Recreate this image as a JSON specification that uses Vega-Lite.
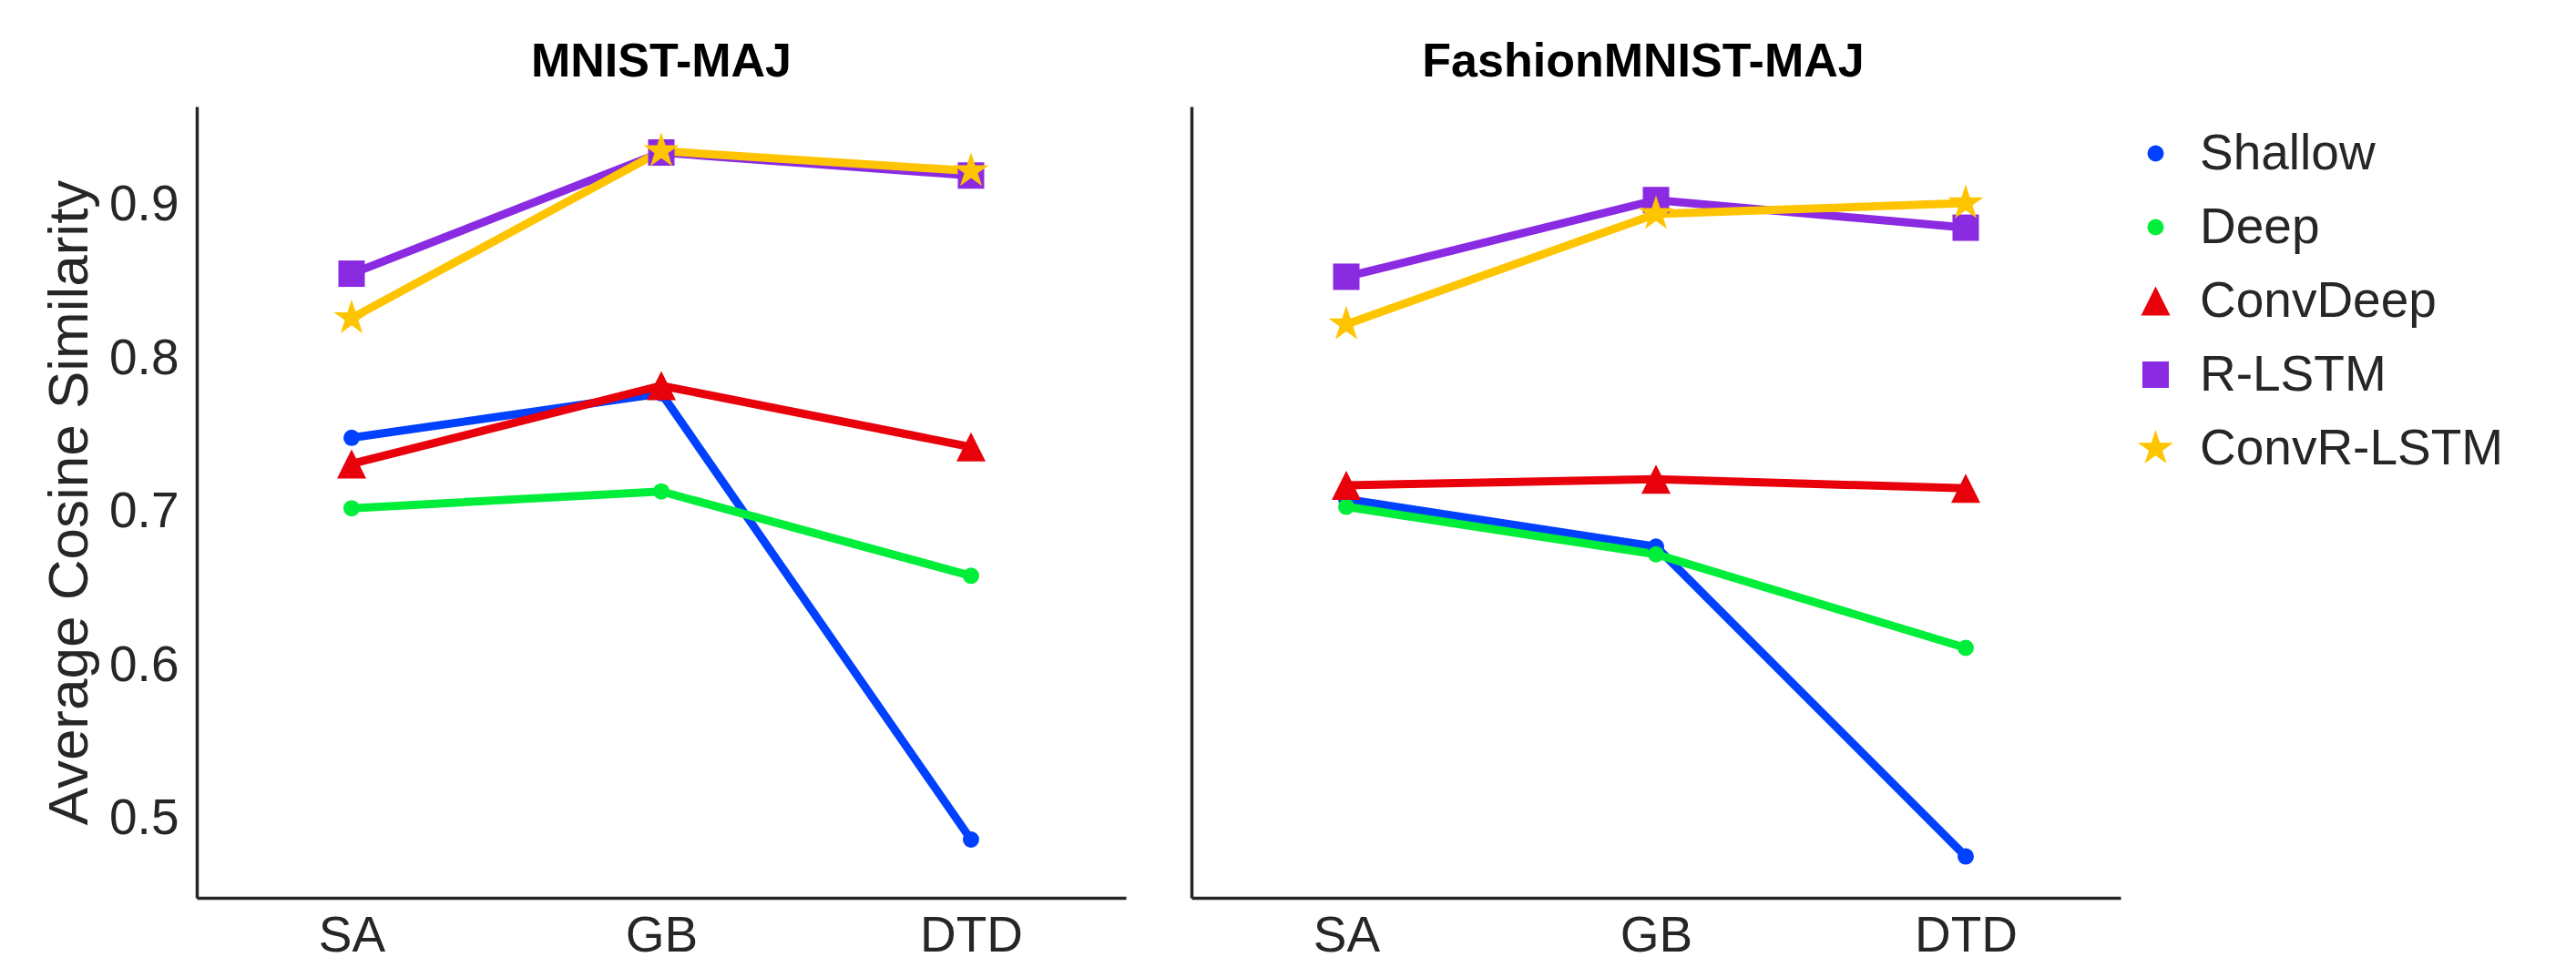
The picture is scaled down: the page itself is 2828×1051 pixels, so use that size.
{
  "$schema": "https://vega.github.io/schema/vega-lite/v6.json",
  "background": "white",
  "autosize": {"type": "pad"},
  "padding": {"left": 45, "top": 42, "right": 0, "bottom": 0},
  "config": {
    "font": "Liberation Sans",
    "view": {"stroke": null},
    "concat": {"spacing": 72},
    "axis": {
      "grid": false,
      "ticks": false,
      "tickSize": 0,
      "domainColor": "#262626",
      "domainWidth": 3.5,
      "labelFont": "Liberation Sans",
      "labelFontSize": 55,
      "labelColor": "#262626",
      "labelPadding": 20,
      "titleFont": "Liberation Sans",
      "titleFontSize": 62,
      "titleFontWeight": "normal",
      "titleColor": "#262626"
    },
    "title": {
      "font": "Liberation Sans",
      "fontSize": 52,
      "fontWeight": "bold",
      "color": "#000000",
      "frame": "group",
      "anchor": "middle",
      "baseline": "alphabetic",
      "offset": 22
    },
    "legend": {
      "orient": "right",
      "offset": -13,
      "padding": 24,
      "labelFont": "Liberation Sans",
      "labelFontSize": 55,
      "labelColor": "#262626",
      "labelOffset": 21,
      "labelLimit": 600,
      "rowPadding": 25,
      "symbolOpacity": 1,
      "symbolStrokeWidth": 0
    }
  },
  "data": {
    "values": [
      {"dataset": "MNIST-MAJ", "model": "Shallow", "method": "SA", "value": 0.748},
      {"dataset": "MNIST-MAJ", "model": "Shallow", "method": "GB", "value": 0.777},
      {"dataset": "MNIST-MAJ", "model": "Shallow", "method": "DTD", "value": 0.486},
      {"dataset": "MNIST-MAJ", "model": "Deep", "method": "SA", "value": 0.702},
      {"dataset": "MNIST-MAJ", "model": "Deep", "method": "GB", "value": 0.713},
      {"dataset": "MNIST-MAJ", "model": "Deep", "method": "DTD", "value": 0.658},
      {"dataset": "MNIST-MAJ", "model": "ConvDeep", "method": "SA", "value": 0.731},
      {"dataset": "MNIST-MAJ", "model": "ConvDeep", "method": "GB", "value": 0.782},
      {"dataset": "MNIST-MAJ", "model": "ConvDeep", "method": "DTD", "value": 0.742},
      {"dataset": "MNIST-MAJ", "model": "R-LSTM", "method": "SA", "value": 0.855},
      {"dataset": "MNIST-MAJ", "model": "R-LSTM", "method": "GB", "value": 0.934},
      {"dataset": "MNIST-MAJ", "model": "R-LSTM", "method": "DTD", "value": 0.919},
      {"dataset": "MNIST-MAJ", "model": "ConvR-LSTM", "method": "SA", "value": 0.826},
      {"dataset": "MNIST-MAJ", "model": "ConvR-LSTM", "method": "GB", "value": 0.935},
      {"dataset": "MNIST-MAJ", "model": "ConvR-LSTM", "method": "DTD", "value": 0.922},
      {"dataset": "FashionMNIST-MAJ", "model": "Shallow", "method": "SA", "value": 0.708},
      {"dataset": "FashionMNIST-MAJ", "model": "Shallow", "method": "GB", "value": 0.677},
      {"dataset": "FashionMNIST-MAJ", "model": "Shallow", "method": "DTD", "value": 0.475},
      {"dataset": "FashionMNIST-MAJ", "model": "Deep", "method": "SA", "value": 0.703},
      {"dataset": "FashionMNIST-MAJ", "model": "Deep", "method": "GB", "value": 0.672},
      {"dataset": "FashionMNIST-MAJ", "model": "Deep", "method": "DTD", "value": 0.611},
      {"dataset": "FashionMNIST-MAJ", "model": "ConvDeep", "method": "SA", "value": 0.717},
      {"dataset": "FashionMNIST-MAJ", "model": "ConvDeep", "method": "GB", "value": 0.721},
      {"dataset": "FashionMNIST-MAJ", "model": "ConvDeep", "method": "DTD", "value": 0.715},
      {"dataset": "FashionMNIST-MAJ", "model": "R-LSTM", "method": "SA", "value": 0.853},
      {"dataset": "FashionMNIST-MAJ", "model": "R-LSTM", "method": "GB", "value": 0.903},
      {"dataset": "FashionMNIST-MAJ", "model": "R-LSTM", "method": "DTD", "value": 0.885},
      {"dataset": "FashionMNIST-MAJ", "model": "ConvR-LSTM", "method": "SA", "value": 0.822},
      {"dataset": "FashionMNIST-MAJ", "model": "ConvR-LSTM", "method": "GB", "value": 0.894},
      {"dataset": "FashionMNIST-MAJ", "model": "ConvR-LSTM", "method": "DTD", "value": 0.901}
    ]
  },
  "hconcat": [
    {
      "title": "MNIST-MAJ",
      "width": 1020,
      "height": 869,
      "transform": [{"filter": "datum.dataset === 'MNIST-MAJ'"}],
      "encoding": {
        "x": {"field": "method", "type": "ordinal", "sort": ["SA", "GB", "DTD"], "scale": {"type": "point", "padding": 0.5}, "axis": {"title": null, "labelAngle": 0, "labelPadding": 15}},
        "y": {"field": "value", "type": "quantitative", "scale": {"domain": [0.448, 0.964], "nice": false, "zero": false}, "axis": {"title": "Average Cosine Similarity", "values": [0.5, 0.6, 0.7, 0.8, 0.9], "format": ".1f", "titlePadding": 11}}
      },
      "layer": [
        {
          "mark": {"type": "line", "strokeWidth": 9},
          "encoding": {
            "stroke": {"field": "model", "type": "nominal", "scale": {"domain": ["ConvR-LSTM", "R-LSTM", "ConvDeep", "Deep", "Shallow"], "range": ["#ffc400", "#8a2be2", "#e8000b", "#00ee3a", "#0040ff"]}, "legend": null}
          }
        },
        {
          "mark": {"type": "point", "filled": true, "opacity": 1, "strokeWidth": 0},
          "encoding": {
            "color": {"field": "model", "type": "nominal", "scale": {"domain": ["Shallow", "Deep", "ConvDeep", "R-LSTM", "ConvR-LSTM"], "range": ["#0040ff", "#00ee3a", "#e8000b", "#8a2be2", "#ffc400"]}, "title": null},
            "shape": {"field": "model", "type": "nominal", "scale": {"domain": ["Shallow", "Deep", "ConvDeep", "R-LSTM", "ConvR-LSTM"], "range": ["circle", "circle", "M0,-1L1,1L-1,1Z", "square", "M0,-1L0.2245,-0.309L0.9511,-0.309L0.3633,0.118L0.5878,0.809L0,0.382L-0.5878,0.809L-0.3633,0.118L-0.9511,-0.309L-0.2245,-0.309Z"]}, "title": null},
            "size": {"field": "model", "type": "nominal", "scale": {"type": "ordinal", "domain": ["Shallow", "Deep", "ConvDeep", "R-LSTM", "ConvR-LSTM"], "range": [324, 324, 1024, 841, 1681]}, "title": null}
          }
        }
      ]
    },
    {
      "title": {"text": "FashionMNIST-MAJ", "dx": -14},
      "width": 1020,
      "height": 869,
      "transform": [{"filter": "datum.dataset === 'FashionMNIST-MAJ'"}],
      "encoding": {
        "x": {"field": "method", "type": "ordinal", "sort": ["SA", "GB", "DTD"], "scale": {"type": "point", "padding": 0.5}, "axis": {"title": null, "labelAngle": 0, "labelPadding": 15}},
        "y": {"field": "value", "type": "quantitative", "scale": {"domain": [0.448, 0.964], "nice": false, "zero": false}, "axis": {"title": null, "labels": false, "values": [0.5, 0.6, 0.7, 0.8, 0.9]}}
      },
      "layer": [
        {
          "mark": {"type": "line", "strokeWidth": 9},
          "encoding": {
            "stroke": {"field": "model", "type": "nominal", "scale": {"domain": ["ConvR-LSTM", "R-LSTM", "ConvDeep", "Deep", "Shallow"], "range": ["#ffc400", "#8a2be2", "#e8000b", "#00ee3a", "#0040ff"]}, "legend": null}
          }
        },
        {
          "mark": {"type": "point", "filled": true, "opacity": 1, "strokeWidth": 0},
          "encoding": {
            "color": {"field": "model", "type": "nominal", "scale": {"domain": ["Shallow", "Deep", "ConvDeep", "R-LSTM", "ConvR-LSTM"], "range": ["#0040ff", "#00ee3a", "#e8000b", "#8a2be2", "#ffc400"]}, "title": null},
            "shape": {"field": "model", "type": "nominal", "scale": {"domain": ["Shallow", "Deep", "ConvDeep", "R-LSTM", "ConvR-LSTM"], "range": ["circle", "circle", "M0,-1L1,1L-1,1Z", "square", "M0,-1L0.2245,-0.309L0.9511,-0.309L0.3633,0.118L0.5878,0.809L0,0.382L-0.5878,0.809L-0.3633,0.118L-0.9511,-0.309L-0.2245,-0.309Z"]}, "title": null},
            "size": {"field": "model", "type": "nominal", "scale": {"type": "ordinal", "domain": ["Shallow", "Deep", "ConvDeep", "R-LSTM", "ConvR-LSTM"], "range": [324, 324, 1024, 841, 1681]}, "title": null}
          }
        }
      ]
    }
  ]
}
